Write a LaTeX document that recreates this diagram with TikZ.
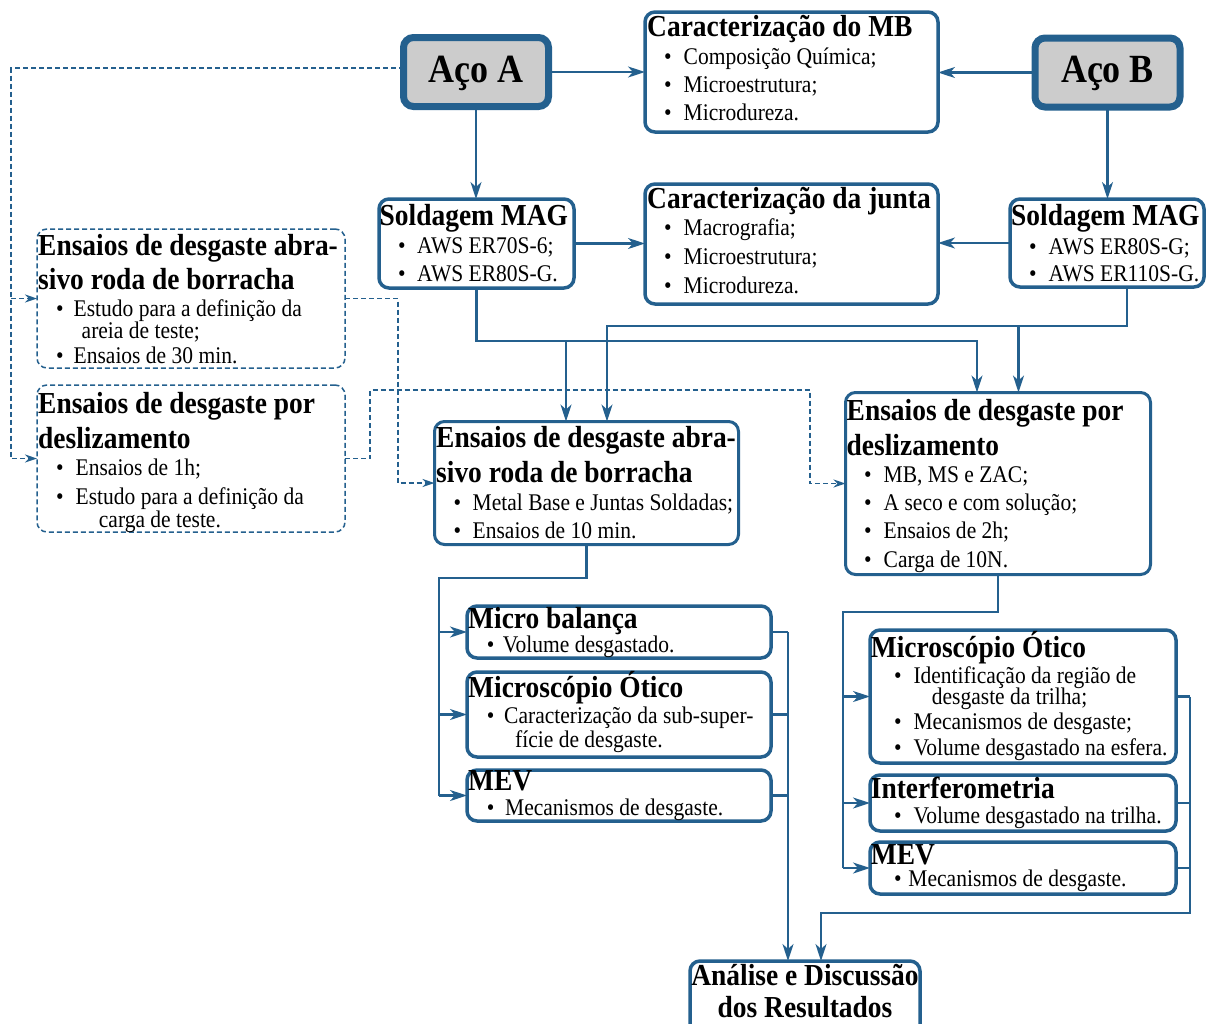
\documentclass[tikz,border=0pt]{standalone}
\usepackage{fontspec}
\setmainfont{Liberation Serif}[FakeStretch=0.9]
\usetikzlibrary{arrows.meta}
\definecolor{bblue}{RGB}{36,96,142}
\definecolor{agray}{RGB}{204,204,204}
\tikzset{
  box/.style={draw=bblue, line width=3.5pt, rounded corners=10pt, fill=white, anchor=north west, inner sep=0pt, outer sep=0pt},
  acobox/.style={box, line width=7pt, fill=agray},
  dbox/.style={box, line width=1.5pt, dash pattern=on 5pt off 3pt},
  head/.style={anchor=base west, inner sep=0pt, font=\fontsize{30.5}{34}\selectfont\bfseries},
  item/.style={anchor=base west, inner sep=0pt, font=\fontsize{23.9}{26}\selectfont},
  wire/.style={draw=bblue, line width=2.2pt},
  conn/.style={wire, -{Stealth[length=17pt,width=11pt,inset=5pt]}},
  dconn/.style={draw=bblue, line width=1.5pt, dash pattern=on 5pt off 3pt, -{Stealth[length=12pt,width=8pt,inset=4pt]}},
}
\newcommand{\bl}[1]{\makebox[#1pt][l]{\textbullet}}
\begin{document}
\begin{tikzpicture}[x=1pt,y=-1pt]
\useasboundingbox (0,0) rectangle (1209,1023);
\clip (0,0) rectangle (1209,1023);

\node[acobox, minimum width=145pt, minimum height=69pt] (acoA) at (403.5,37.5) {};
\node[acobox, minimum width=145pt, minimum height=69pt] (acoB) at (1035,38) {};
\node[anchor=base, font=\fontsize{40}{44}\selectfont\bfseries] (acoAt) at (476,82) {Aço A};
\node[anchor=base, font=\fontsize{40}{44}\selectfont\bfseries] (acoBt) at (1107.5,82) {Aço B};

\node[box, minimum width=293pt, minimum height=120pt] (carMB) at (645,12) {};
\node[head] (carMBh) at (647,36) {Caracterização do MB};
\foreach \y/\t [count=\i] in {64/{Composição Química;},92.5/{Microestrutura;},120.5/{Microdureza.}}
  \node[item] (carMB\i) at (664,\y) {\bl{19.5}\t};

\node[box, minimum width=293pt, minimum height=120pt] (carJ) at (645,184) {};
\node[head] (carJh) at (647,208) {Caracterização da junta};
\foreach \y/\t [count=\i] in {235/{Macrografia;},264/{Microestrutura;},293/{Microdureza.}}
  \node[item] (carJ\i) at (664,\y) {\bl{19.5}\t};

\node[box, minimum width=195pt, minimum height=89pt] (soldA) at (379,199) {};
\node[head] (soldAh) at (379.5,225) {Soldagem MAG};
\foreach \y/\t [count=\i] in {253/{AWS ER70S-6;},281/{AWS ER80S-G.}}
  \node[item] (soldA\i) at (398,\y) {\bl{19}\t};

\node[box, minimum width=194pt, minimum height=88pt] (soldB) at (1010,199) {};
\node[head] (soldBh) at (1011,225) {Soldagem MAG};
\foreach \y/\t [count=\i] in {254/{AWS ER80S-G;},281/{AWS ER110S-G.}}
  \node[item] (soldB\i) at (1029,\y) {\bl{19.5}\t};

% ensaios preliminares
\node[dbox, minimum width=308pt, minimum height=139pt] (dash1) at (37,229) {};
\node[head] (dash1h) at (38,255) {Ensaios de desgaste abra-};
\node[head] (dash1g) at (38,289.5) {sivo roda de borracha};
\node[item] (dash1a) at (56,316) {\bl{17.5}Estudo para a definição da};
\node[item] (dash1b) at (81.5,338) {areia de teste;};
\node[item] (dash1c) at (56,363) {\bl{17.5}Ensaios de 30 min.};

\node[dbox, minimum width=308pt, minimum height=147pt] (dash2) at (37,385) {};
\node[head] (dash2h) at (38,413.5) {Ensaios de desgaste por};
\node[head] (dash2g) at (38,448.5) {deslizamento};
\node[item] (dash2a) at (56,475) {\bl{19.5}Ensaios de 1h;};
\node[item] (dash2b) at (56,504) {\bl{19.5}Estudo para a definição da};
\node[item] (dash2c) at (98.7,527) {carga de teste.};

% ensaios principais
\node[box, line width=3pt, minimum width=304pt, minimum height=123pt] (abrC) at (434.5,421.5) {};
\node[head] (abrCh) at (436,447) {Ensaios de desgaste abra-};
\node[head] (abrCg) at (436,482) {sivo roda de borracha};
\foreach \y/\t [count=\i] in {510/{Metal Base e Juntas Soldadas;},538.5/{Ensaios de 10 min.}}
  \node[item] (abrC\i) at (453.5,\y) {\bl{19}\t};

\node[box, line width=3pt, minimum width=305pt, minimum height=182pt] (deslR) at (845.5,392.5) {};
\node[head] (deslRh) at (846.5,420) {Ensaios de desgaste por};
\node[head] (deslRg) at (846.5,455) {deslizamento};
\foreach \y/\t [count=\i] in {482/{MB, MS e ZAC;},510/{A seco e com solução;},538.5/{Ensaios de 2h;},567/{Carga de 10N.}}
  \node[item] (deslR\i) at (864,\y) {\bl{19.5}\t};

\node[box, minimum width=304pt, minimum height=52pt] (mbal) at (467,606) {};
\node[head] (mbalh) at (468,628.5) {Micro balança};
\node[item] (mbal1) at (486.7,652) {\bl{16}Volume desgastado.};

\node[box, minimum width=304pt, minimum height=85pt] (motL) at (467,672) {};
\node[head] (motLh) at (468,697.5) {Microscópio Ótico};
\node[item] (motL1) at (486.7,723.5) {\bl{17.3}Caracterização da sub-super-};
\node[item] (motL2) at (515,747) {fície de desgaste.};

\node[box, minimum width=304pt, minimum height=51pt] (mevL) at (467,770) {};
\node[head] (mevLh) at (468,790) {MEV};
\node[item] (mevL1) at (486.7,815) {\bl{18.3}Mecanismos de desgaste.};

\node[box, minimum width=306pt, minimum height=133pt] (motR) at (870,630) {};
\node[head] (motRh) at (870.7,657) {Microscópio Ótico};
\node[item] (motR1) at (894,683) {\bl{19.3}Identificação da região de};
\node[item] (motR2) at (931.7,704.5) {desgaste da trilha;};
\node[item] (motR3) at (894,729) {\bl{19.3}Mecanismos de desgaste;};
\node[item] (motR4) at (894,755) {\bl{19.3}Volume desgastado na esfera.};

\node[box, minimum width=306pt, minimum height=56pt] (intR) at (870,775) {};
\node[head] (intRh) at (870.7,798.5) {Interferometria};
\node[item] (intR1) at (894,823.5) {\bl{19.3}Volume desgastado na trilha.};

\node[box, minimum width=306pt, minimum height=52pt] (mevR) at (870,842) {};
\node[head] (mevRh) at (870.7,864) {MEV};
\node[item] (mevR1) at (894,886) {\bl{14.3}Mecanismos de desgaste.};

\node[box, minimum width=230pt, minimum height=100pt] (anal) at (690,961) {};
\node[head, anchor=base] (analh) at (805,985) {Análise e Discussão};
\node[head, anchor=base] (analg) at (805,1017) {dos Resultados};

% pontos de passagem
\coordinate (colL) at (11,0);
\coordinate (colM) at (398,0);
\coordinate (colN) at (370,0);
\coordinate (rowC) at (0,390);
\coordinate (colP) at (810,0);
\coordinate (rowA) at (0,341);
\coordinate (rowB) at (0,326);
\coordinate (rowD) at (0,578);
\coordinate (colQ) at (439,0);
\coordinate (colR) at (788,0);
\coordinate (rowE) at (0,612);
\coordinate (colS) at (843,0);
\coordinate (colT) at (1190,0);
\coordinate (rowF) at (0,913);
\coordinate (abrInA) at ([xshift=131.5pt]abrC.north west);
\coordinate (abrInB) at ([xshift=172.5pt]abrC.north west);
\coordinate (desInA) at ([xshift=131.5pt]deslR.north west);
\coordinate (desInB) at ([xshift=173pt]deslR.north west);
\coordinate (soldBout) at ([xshift=20pt]soldB.south);
\coordinate (anInA) at ([xshift=98pt]anal.north west);
\coordinate (anInB) at ([xshift=131pt]anal.north west);

\draw[conn] (acoA.east) -- (carMB.west);
\draw[conn] (acoB.west) -- (acoB.west -| carMB.east);
\draw[conn] (acoA.south) -- (acoA.south |- soldA.north);
\draw[conn] (acoB.south) -- (acoB.south |- soldB.north);
\draw[conn] (soldA.east) -- (soldA.east -| carJ.west);
\draw[conn] (soldB.west) -- (soldB.west -| carJ.east);

\draw[conn] (soldA.south) |- (rowA -| desInA) -- (desInA);
\draw[conn] (abrInA |- rowA) -- (abrInA);
\draw[conn] (soldBout) |- (rowB -| abrInB) -- (abrInB);
\draw[conn] (desInB |- rowB) -- (desInB);

\draw[dconn] ([yshift=4pt]acoA.west) -| (colL |- dash2.west) -- (dash2.west);
\draw[dconn] (colL |- dash1.west) -- (dash1.west);
\draw[dconn] (dash1.east) -| (colM |- abrC.west) -- (abrC.west);
\draw[dconn] (dash2.east) -| (colN |- rowC) -| (colP |- deslR.west) -- (deslR.west);

\draw[wire] (abrC.south) |- (rowD -| colQ) -- (colQ |- mevL.west);
\foreach \n in {mbal,motL,mevL} \draw[conn] (colQ |- \n.west) -- (\n.west);
\foreach \n in {mbal,motL,mevL} \draw[wire] (\n.east) -- (colR |- \n.east);
\draw[conn] (colR |- mbal.east) -- (anInA);

\draw[wire] (deslR.south) |- (rowE -| colS) -- (colS |- mevR.west);
\foreach \n in {motR,intR,mevR} \draw[conn] (colS |- \n.west) -- (\n.west);
\foreach \n in {motR,intR,mevR} \draw[wire] (\n.east) -- (colT |- \n.east);
\draw[conn] (colT |- motR.east) |- (rowF -| anInB) -- (anInB);

\end{tikzpicture}
\end{document}
